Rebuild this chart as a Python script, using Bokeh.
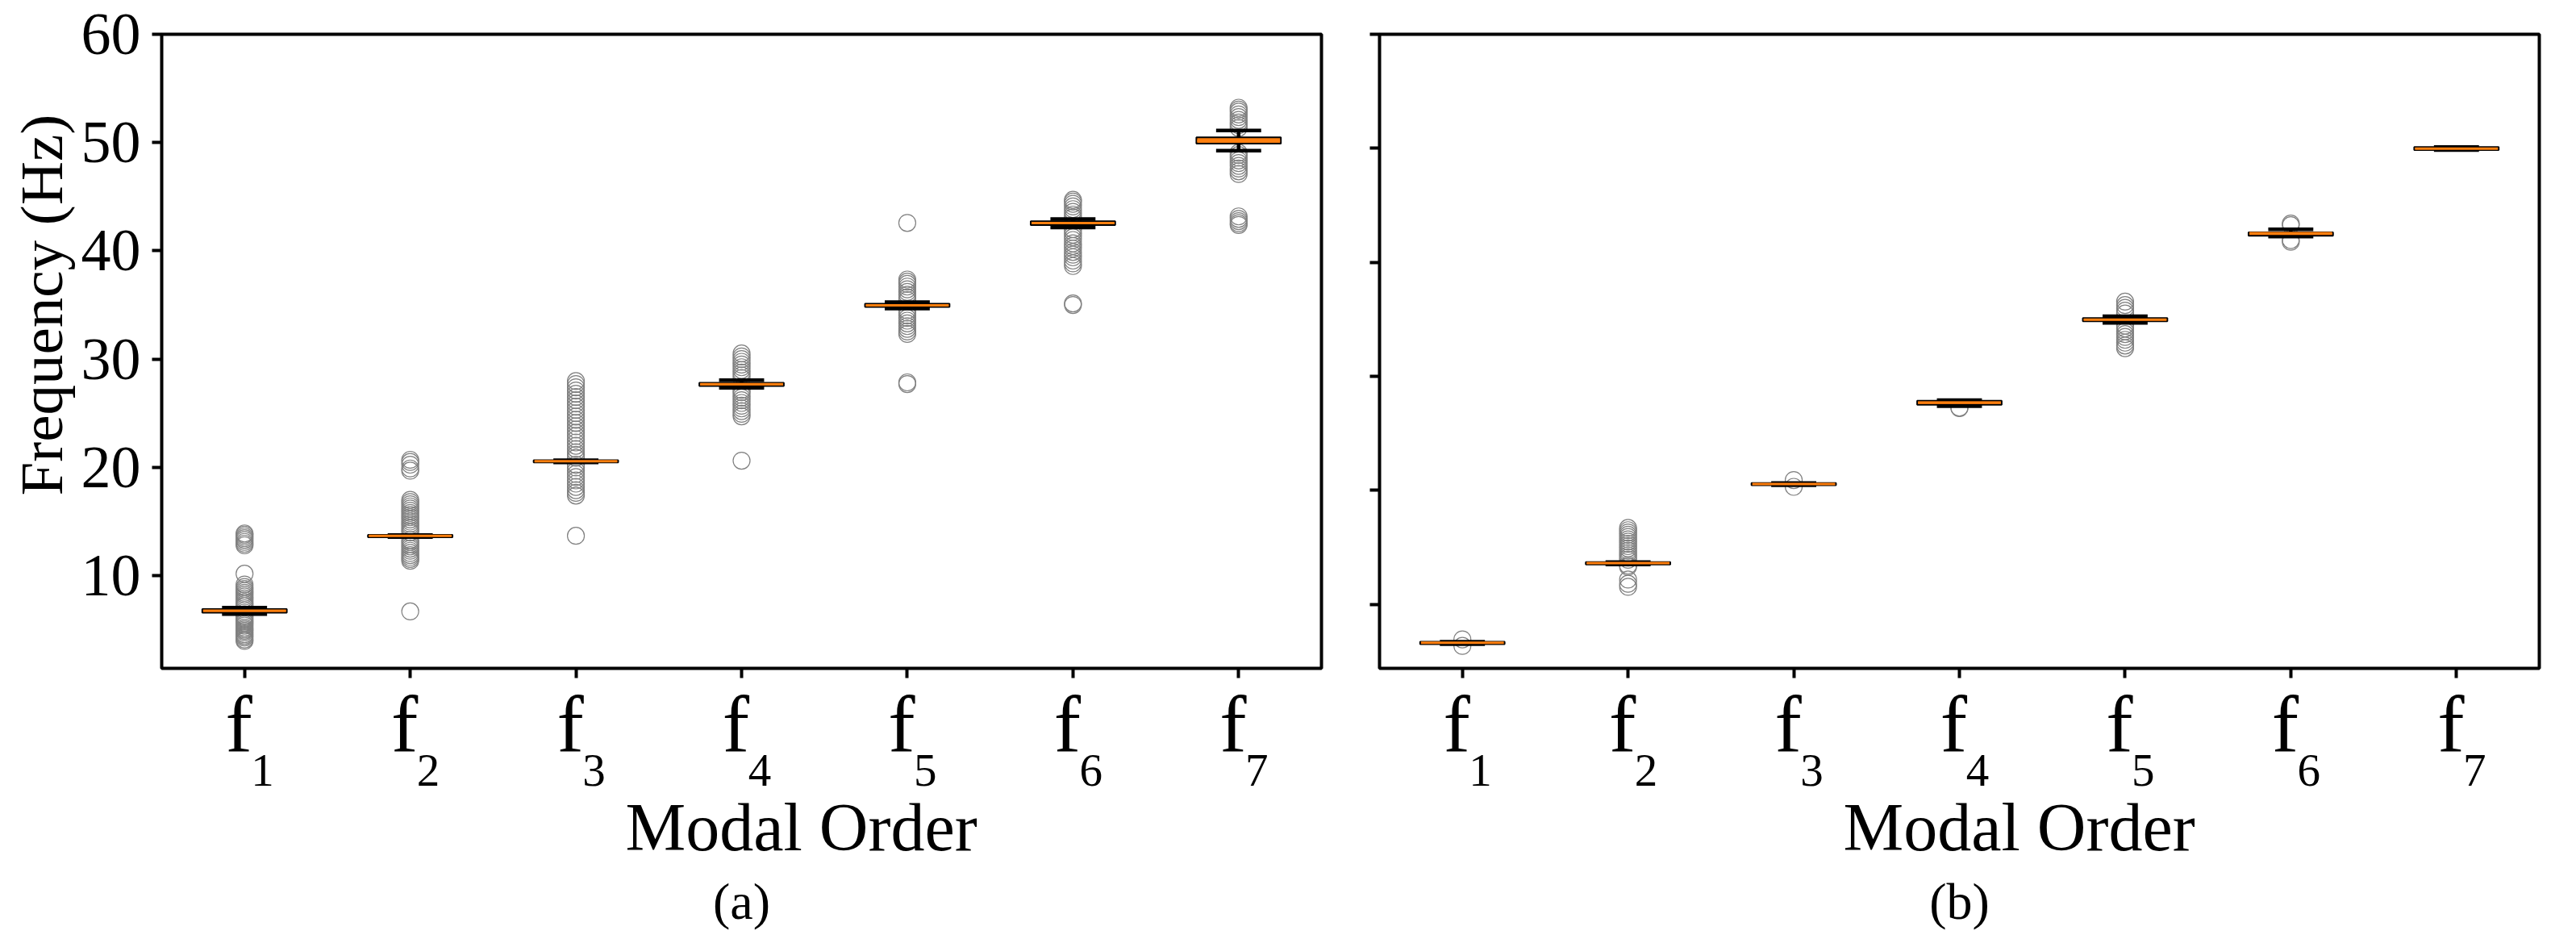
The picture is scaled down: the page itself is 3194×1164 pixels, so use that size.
from bokeh.plotting import figure
from bokeh.models import Range1d, FixedTicker, LinearAxis, Title
from bokeh.layouts import row
from bokeh.embed import file_html
from bokeh.resources import INLINE

# ---------------- data ----------------
modes = ["1", "2", "3", "4", "5", "6", "7"]          # subscripts of f
positions = [1, 2, 3, 4, 5, 6, 7]
y_ticks = [10, 20, 30, 40, 50, 60]

# (a) left panel
a_median = [6.76, 13.68, 20.57, 27.69, 34.96, 42.56, 50.17]
a_q1 = [6.58, 13.55, 20.45, 27.52, 34.82, 42.38, 49.90]
a_q3 = [6.91, 13.77, 20.67, 27.82, 35.12, 42.73, 50.49]
a_lo = [6.45, 13.56, 20.45, 27.34, 34.66, 42.15, 49.26]
a_hi = [7.05, 13.76, 20.67, 28.05, 35.27, 42.93, 51.12]
a_f1 = [3.98, 4.12, 4.3, 4.45, 4.6, 4.78, 4.92, 5.05, 5.2, 5.38, 5.52, 5.66, 5.8, 5.96,
        6.1, 6.26, 7.22, 7.38, 7.55, 7.72, 7.9, 8.08, 8.25, 8.42, 8.6, 8.78, 8.95, 9.18,
        10.18, 12.8, 12.95, 13.12, 13.3, 13.46, 13.62, 13.78, 13.9]
a_f2 = [6.7, 11.37, 11.55, 11.72, 11.9, 12.1, 12.3, 12.5, 12.7, 12.9, 13.1, 13.28, 14.0,
        14.2, 14.4, 14.6, 14.8, 15.0, 15.2, 15.4, 15.6, 15.8, 16.0, 16.2, 16.4, 16.6, 16.8,
        17.0, 19.7, 19.9, 20.25, 20.5, 20.7]
a_f3 = [13.68, 17.4, 17.65, 17.9, 18.2, 18.5, 18.8, 19.1, 19.4, 19.7, 20.0, 20.25, 20.9,
        21.15, 21.4, 21.7, 22.0, 22.3, 22.6, 22.9, 23.2, 23.5, 23.8, 24.1, 24.4, 24.7, 25.0,
        25.3, 25.6, 25.9, 26.2, 26.5, 26.8, 27.1, 27.4, 27.7, 27.97]
a_f4 = [20.62, 24.72, 24.95, 25.2, 25.45, 25.7, 25.95, 26.2, 26.45, 26.7, 26.95, 27.15,
        28.25, 28.5, 28.75, 29.0, 29.25, 29.5, 29.75, 30.0, 30.25, 30.52]
a_f5 = [27.7, 27.85, 32.33, 32.55, 32.8, 33.05, 33.3, 33.55, 33.8, 34.05, 34.3, 34.5, 35.45,
        35.7, 35.95, 36.2, 36.45, 36.7, 36.95, 37.15, 37.35, 42.58]
a_f6 = [35.0, 35.15, 38.6, 38.85, 39.1, 39.4, 39.65, 39.9, 40.2, 40.45, 40.7, 41.0, 41.25,
        41.5, 41.75, 42.0, 43.1, 43.35, 43.6, 43.85, 44.1, 44.35, 44.55, 44.71]
a_f7 = [42.39, 42.55, 42.75, 42.95, 43.18, 47.1, 47.35, 47.6, 47.85, 48.1, 48.35, 48.6,
        48.85, 49.05, 51.35, 51.6, 51.85, 52.1, 52.35, 52.6, 52.85, 53.05, 53.22]
a_fliers = [a_f1, a_f2, a_f3, a_f4, a_f5, a_f6, a_f7]

# (b) right panel
b_median = [6.62, 13.61, 20.55, 27.69, 34.97, 42.56, 49.97]
b_q1 = [6.51, 13.49, 20.44, 27.50, 34.83, 42.32, 49.85]
b_q3 = [6.72, 13.70, 20.63, 27.85, 35.11, 42.63, 50.11]
b_lo = [6.51, 13.49, 20.44, 27.37, 34.68, 42.25, 49.85]
b_hi = [6.72, 13.70, 20.63, 27.90, 35.26, 42.90, 50.11]
b_f1 = [6.35, 6.92]
b_f2 = [11.53, 11.8, 12.17, 13.3, 13.42, 13.9, 14.1, 14.3, 14.5, 14.7, 14.9, 15.1, 15.3,
        15.5, 15.7, 15.9, 16.1, 16.3, 16.5, 16.7]
b_f3 = [20.3, 20.9]
b_f4 = [27.2, 27.25]
b_f5 = [32.47, 32.7, 32.95, 33.2, 33.45, 33.7, 33.95, 34.2, 34.45, 35.5, 35.75, 36.0,
        36.25, 36.55]
b_f6 = [41.8, 41.95, 43.25, 43.4]
b_f7 = []
b_fliers = [b_f1, b_f2, b_f3, b_f4, b_f5, b_f6, b_f7]

FONT = "Liberation Serif"
ORANGE = "#ff7f0e"
GREY = "#808080"
PX_PER_UNIT = 1438 / 7.0


def plain_axis(ax):
    ax.axis_line_color = None
    ax.major_tick_line_color = None
    ax.minor_tick_line_color = None
    ax.major_tick_out = 0
    ax.major_tick_in = 0
    ax.major_label_text_font = FONT
    ax.major_label_text_color = "black"


def panel(median, q1, q3, lo, hi, fliers, y_bottom, tag, show_y, b_left, b_right):
    f_shift = -7 / PX_PER_UNIT
    s_shift = 22.4 / PX_PER_UNIT
    p = figure(frame_width=1438, frame_height=786,
               x_range=Range1d(0.5, 7.5), y_range=Range1d(y_bottom, 60),
               output_backend="svg", toolbar_location=None,
               min_border_left=b_left, min_border_right=b_right,
               min_border_top=42, min_border_bottom=300,
               background_fill_color="white", border_fill_color="white")
    p.extra_x_ranges = {
        "f": Range1d(0.5 - f_shift, 7.5 - f_shift),
        "sub": Range1d(0.5 - s_shift, 7.5 - s_shift),
    }
    p.grid.visible = False
    p.outline_line_color = "black"
    p.outline_line_width = 4
    p.outline_line_alpha = 1.0

    for ax in (p.xaxis[0], p.yaxis[0]):
        ax.axis_line_color = None
        ax.major_tick_out = 12
        ax.major_tick_in = 0
        ax.major_tick_line_width = 4
        ax.major_tick_line_color = "black"
        ax.minor_tick_line_color = None
        ax.major_label_text_font = FONT
        ax.major_label_text_color = "black"
    p.xaxis.ticker = FixedTicker(ticks=positions)
    p.xaxis.major_label_overrides = {i: "" for i in positions}
    p.xaxis.major_label_text_font_size = "1px"
    p.xaxis.major_label_standoff = 0
    p.yaxis.ticker = FixedTicker(ticks=y_ticks)
    p.yaxis.major_label_text_font_size = "74px"
    p.yaxis.major_label_standoff = 14
    if not show_y:
        p.yaxis.major_label_overrides = {v: "" for v in y_ticks}
        p.yaxis.major_label_text_font_size = "1px"

    # tick labels: "f" and its subscript on two label-only axes
    ax_f = LinearAxis(x_range_name="f", ticker=FixedTicker(ticks=positions),
                      major_label_overrides={i: "f" for i in positions})
    plain_axis(ax_f)
    ax_f.major_label_text_font_size = "100px"
    ax_f.major_label_standoff = 2
    p.add_layout(ax_f, "below")
    ax_s = LinearAxis(x_range_name="sub", ticker=FixedTicker(ticks=positions),
                      major_label_overrides={i: m for i, m in zip(positions, modes)})
    plain_axis(ax_s)
    ax_s.major_label_text_font_size = "57px"
    ax_s.major_label_standoff = -21
    p.add_layout(ax_s, "below")

    p.add_layout(Title(text="Modal Order", align="left", offset=575,
                       text_font=FONT, text_font_size="84px", text_font_style="normal",
                       text_color="black", standoff=0), "below")
    p.add_layout(Title(text=tag, align="center",
                       text_font=FONT, text_font_size="64px", text_font_style="normal",
                       text_color="black", standoff=16), "below")
    if show_y:
        p.add_layout(Title(text="Frequency (Hz)", align="left", offset=214,
                           text_font=FONT, text_font_size="75px", text_font_style="normal",
                           text_color="black", standoff=10), "left")

    # outliers (fliers)
    fx, fy = [], []
    for pos, vals in zip(positions, fliers):
        for v in vals:
            fx.append(pos)
            fy.append(v)
    p.scatter(fx, fy, marker="circle", size=21, fill_color=None,
              line_color=GREY, line_width=1.2)

    # whiskers
    p.segment(positions, lo, positions, q1, line_color="black", line_width=4.5)
    p.segment(positions, q3, positions, hi, line_color="black", line_width=4.5)
    # caps
    cl = [x - 0.125 for x in positions]
    cr = [x + 0.125 for x in positions]
    p.segment(cl, lo, cr, lo, line_color="black", line_width=4.5, line_cap="square")
    p.segment(cl, hi, cr, hi, line_color="black", line_width=4.5, line_cap="square")
    # boxes
    p.quad(left=[x - 0.255 for x in positions], right=[x + 0.255 for x in positions],
           bottom=q1, top=q3, fill_color=ORANGE, line_color="black", line_width=2)
    # medians
    p.segment([x - 0.25 for x in positions], median, [x + 0.25 for x in positions], median,
              line_color=ORANGE, line_width=3)
    return p


pa = panel(a_median, a_q1, a_q3, a_lo, a_hi, a_fliers, 1.44, "(a)", True, 200, 36)
pb = panel(b_median, b_q1, b_q3, b_lo, b_hi, b_fliers, 4.38, "(b)", False, 36, 20)

layout = row(pa, pb)
open("out.html", "w").write(file_html(layout, INLINE))
